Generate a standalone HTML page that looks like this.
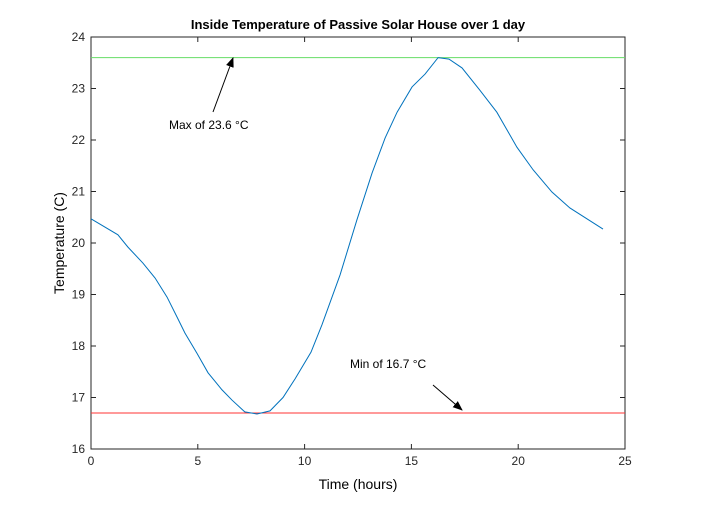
<!DOCTYPE html>
<html><head><meta charset="utf-8"><style>
body{margin:0;background:#fff;}
svg text{font-family:"Liberation Sans",Arial,sans-serif;}
</style></head><body>
<svg id="chart" width="703" height="505" xmlns="http://www.w3.org/2000/svg">
<rect width="703" height="505" fill="#fff"/>
<defs><marker id="ah" markerWidth="10" markerHeight="8" refX="9" refY="4" orient="auto"><path d="M0,0 L10,4 L0,8 Z" fill="#000"/></marker></defs>
<g id="plot"></g>
<text x="358" y="29" text-anchor="middle" font-size="13" font-weight="bold">Inside Temperature of Passive Solar House over 1 day</text>
<text x="358" y="489" text-anchor="middle" font-size="14">Time (hours)</text>
<text transform="translate(64,243) rotate(-90)" text-anchor="middle" font-size="14">Temperature (C)</text>
<line x1="213" y1="112" x2="233" y2="58" stroke="#000" stroke-width="1" marker-end="url(#ah)"/>
<text x="169" y="129" font-size="12">Max of 23.6 °C</text>
<line x1="433" y1="385" x2="462" y2="410" stroke="#000" stroke-width="1" marker-end="url(#ah)"/>
<text x="350" y="368" font-size="12">Min of 16.7 °C</text>
</svg>
<script>
const hours=[0,1.26,1.73,2.43,3.0,3.56,4.03,4.4,4.96,5.48,6.13,6.6,7.2,7.77,8.38,8.99,9.55,10.3,10.81,11.66,12.45,13.16,13.77,14.33,15.03,15.64,16.25,16.76,17.37,18.2,19.0,19.94,20.7,21.58,22.42,23.97];
const temps=[20.47,20.16,19.92,19.61,19.32,18.95,18.56,18.25,17.86,17.48,17.15,16.95,16.72,16.68,16.74,17.0,17.36,17.88,18.41,19.38,20.45,21.36,22.04,22.54,23.03,23.28,23.6,23.57,23.4,22.97,22.54,21.86,21.42,20.99,20.68,20.27];
const xTicks=[0,5,10,15,20,25];
const yTicks=[16,17,18,19,20,21,22,23,24];
const maxVal=23.6, minVal=16.7;
const X0=91,X1=625,Y0=449,Y1=37;
const xs=v=>X0+(v-0)/(25-0)*(X1-X0);
const ys=v=>Y0-(v-16)/(24-16)*(Y0-Y1);
const g=document.getElementById('plot');
const NS='http://www.w3.org/2000/svg';
function mk(t,a){const e=document.createElementNS(NS,t);for(const k in a)e.setAttribute(k,a[k]);g.appendChild(e);return e;}
const bx=mk('rect',{x:X0,y:Y1,width:X1-X0,height:Y0-Y1,fill:'#fff',stroke:'#262626','stroke-width':1});


xTicks.forEach(v=>{
 const x=xs(v);
 mk('line',{x1:x,y1:Y0,x2:x,y2:Y0-5,stroke:'#262626'});
 mk('line',{x1:x,y1:Y1,x2:x,y2:Y1+5,stroke:'#262626'});
 const t=mk('text',{x:x,y:Y0+16,'text-anchor':'middle','font-size':12,fill:'#262626'});t.textContent=v;
 
 
});
yTicks.forEach(v=>{
 const y=ys(v);
 mk('line',{x1:X0,y1:y,x2:X0+5,y2:y,stroke:'#262626'});
 mk('line',{x1:X1,y1:y,x2:X1-5,y2:y,stroke:'#262626'});
 const t=mk('text',{x:X0-6,y:y+4,'text-anchor':'end','font-size':12,fill:'#262626'});t.textContent=v;
 
 
});
const mx=mk('line',{x1:X0,x2:X1,y1:ys(maxVal),y2:ys(maxVal),stroke:'#66dd66'});


const mn=mk('line',{x1:X0,x2:X1,y1:ys(minVal),y2:ys(minVal),stroke:'#ff3333'});


const p=mk('polyline',{points:hours.map((h,i)=>xs(h)+','+ys(temps[i])).join(' '),fill:'none',stroke:'#0072bd','stroke-width':1});


</script>
</body></html>
